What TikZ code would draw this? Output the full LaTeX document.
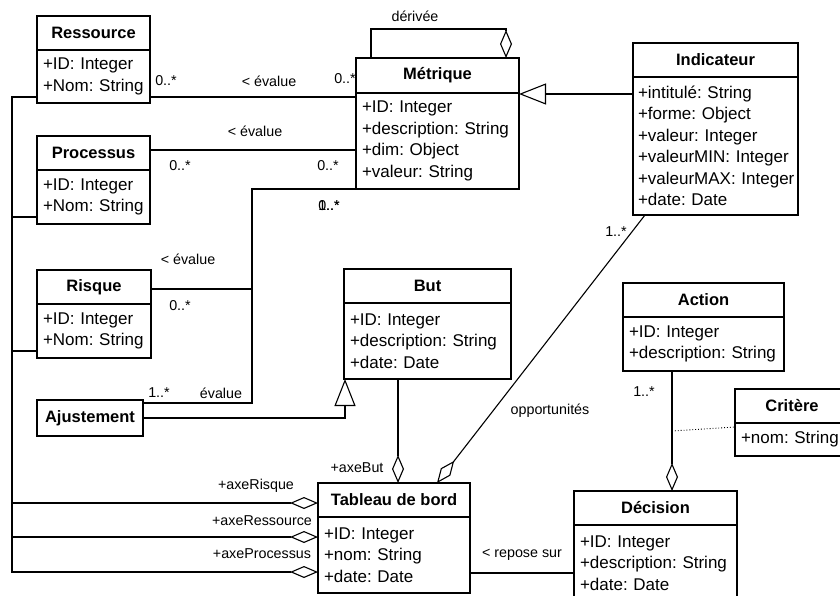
\documentclass[tikz,border=0pt]{standalone}
\usepackage{fontspec}
\setmainfont{Liberation Sans}
\usetikzlibrary{arrows.meta, positioning, calc}

\newcommand{\attrfont}{\fontsize{17}{21.5}\selectfont\frenchspacing\hyphenpenalty=10000\exhyphenpenalty=10000\hfuzz=20pt}
\newcommand{\headfont}{\fontsize{16.5}{20}\selectfont\bfseries}
\newcommand{\lblfont}{\fontsize{14.3}{17}\selectfont}

\tikzset{
  head/.style={draw, font=\headfont, minimum height=34pt, inner sep=0pt, outer sep=0pt, anchor=north west},
  body/.style={draw, font=\attrfont, align=left, inner xsep=6pt, inner ysep=0pt, outer sep=0pt},
  lbl/.style={font=\lblfont, inner sep=0pt},
  aggr/.style={-{Diamond[open, length=28pt, width=12pt]}},
  gen/.style={-{Triangle[open, length=27pt, width=21pt]}},
  assoc/.style={dotted, line width=0.9pt}
}

\begin{document}
\begin{tikzpicture}[x=1pt, y=-1pt, line width=1.1pt]
\useasboundingbox (0,0) rectangle (840,596);
\clip (0,0) rectangle (840,596);

%classes
  \node[head, minimum width=113pt] (res) at (37,16) {Ressource};
  \node[body, text width=101pt, minimum height=53pt, below=0pt of res] (res-b) {+ID:~Integer\\+Nom:~String};
  \node[head, minimum width=113pt] (proc) at (37,136) {Processus};
  \node[body, text width=101pt, minimum height=54pt, below=0pt of proc] (proc-b) {+ID:~Integer\\+Nom:~String};
  \node[head, minimum width=114pt] (risk) at (37,270) {Risque};
  \node[body, text width=102pt, minimum height=54pt, below=0pt of risk] (risk-b) {+ID:~Integer\\+Nom:~String};
  \node[head, minimum width=106pt, minimum height=36pt] (adj) at (37,400) {Ajustement};

  \node[head, minimum width=163pt, minimum height=35pt] (met) at (356,58) {Métrique};
  \node[body, text width=151pt, minimum height=96pt, below=0pt of met] (met-b) {+ID:~Integer\\+description:~String\\+dim:~Object\\+valeur:~String};
  \node[head, minimum width=165pt] (ind) at (633,43) {Indicateur};
  \node[body, text width=155pt, inner xsep=5pt, minimum height=138pt, below=0pt of ind] (ind-b) {+intitulé:~String\\+forme:~Object\\+valeur:~Integer\\+valeurMIN:~Integer\\+valeurMAX:~Integer\\+date:~Date};
  \node[head, minimum width=167pt] (but) at (344,269) {But};
  \node[body, text width=155pt, minimum height=76pt, below=0pt of but] (but-b) {+ID:~Integer\\+description:~String\\+date:~Date};
  \node[head, minimum width=161pt] (act) at (623,283) {Action};
  \node[body, text width=149pt, minimum height=54pt, below=0pt of act] (act-b) {+ID:~Integer\\+description:~String};
  \node[head, minimum width=114pt] (crit) at (735,389) {Critère};
  \node[body, text width=102pt, minimum height=33pt, below=0pt of crit] (crit-b) {+nom:~String};
  \node[head, minimum width=152pt] (tab) at (318,483) {Tableau de bord};
  \node[body, text width=140pt, minimum height=76pt, below=0pt of tab] (tab-b) {+ID:~Integer\\+nom:~String\\+date:~Date};
  \node[head, minimum width=163pt] (dec) at (574,491) {Décision};
  \node[body, text width=151pt, minimum height=76pt, below=0pt of dec] (dec-b) {+ID:~Integer\\+description:~String\\+date:~Date};

%helper points
  \coordinate (bus) at (12,0);
  \coordinate (evbus) at ($(met-b.south west)+(-104,0)$);

%associations
  \draw ([yshift=6pt]res-b.south east) -- ([yshift=6pt]res-b.south east -| met-b.west);
  \draw ([yshift=3pt]proc.east) -- ([yshift=3pt]proc.east -| met-b.west);
  \draw (met-b.south west) -- (evbus) |- ([yshift=15pt]adj.east);
  \draw ([yshift=-2pt]risk.east) -- ([yshift=-2pt]risk.east -| evbus);
  \draw[aggr] ([xshift=15pt]met.north west) -- ++(0,-29) -| ([xshift=-13pt]met.north east);
  \draw[gen] ([yshift=-1pt]met-b.north east -| ind-b.west) -- ([yshift=-1pt]met-b.north east);
  \draw[gen] (adj.east) -| ([xshift=1pt]but-b.south west);
  \draw[aggr] ([xshift=12pt]ind-b.south west) -- ([xshift=119pt]tab.north west);
  \draw[aggr] ([xshift=54pt]but-b.south west) -- ([xshift=54pt]but-b.south west |- tab.north);
  \draw[aggr] ([yshift=6pt]res-b.south west) -- ([yshift=6pt]res-b.south west -| bus) |- ([yshift=18pt]tab-b.west);
  \draw[aggr] ([yshift=7pt]proc-b.south west) -- ([yshift=7pt]proc-b.south west -| bus) |- ([yshift=-17pt]tab-b.west);
  \draw[aggr] ([yshift=7pt]risk-b.south west) -- ([yshift=7pt]risk-b.south west -| bus) |- ([yshift=-3pt]tab.west);
  \draw[aggr] ([xshift=49pt]act-b.south west) -- ([xshift=49pt]act-b.south west |- dec.north);
  \draw[assoc] ([xshift=49pt,yshift=-60pt]act-b.south west) -- ([yshift=-4pt]crit.south west);
  \draw ([yshift=-18pt]tab-b.east) -- ([yshift=-18pt]tab-b.east -| dec-b.west);

%labels
  \node[lbl] (m-res1) at (166,81) {0..*};
  \node[lbl] (e-res) at (269,81) {< évalue};
  \node[lbl] (m-res2) at (345,79) {0..*};
  \node[lbl] (e-proc) at (255,131) {< évalue};
  \node[lbl] (m-proc1) at (180,166) {0..*};
  \node[lbl] (m-proc2) at (328,166) {0..*};
  \node[lbl] (m-risk2) at (329,206) {0..*};
  \node[lbl] (m-adj2) at (329,206) {1..*};
  \node[lbl] (e-risk) at (188,259) {< évalue};
  \node[lbl] (m-risk1) at (180,306) {0..*};
  \node[lbl] (m-adj1) at (159,393) {1..*};
  \node[lbl] (e-adj) at (221,393) {évalue};
  \node[lbl] (derivee) at (415,16) {dérivée};
  \node[lbl] (m-ind) at (616,232) {1..*};
  \node[lbl] (opport) at (550,411) {opportunités};
  \node[lbl] (m-act) at (644,392) {1..*};
  \node[lbl] (axebut) at (357,468) {+axeBut};
  \node[lbl] (axerisk) at (256,486) {+axeRisque};
  \node[lbl] (axeres) at (262,521) {+axeRessource};
  \node[lbl] (axeproc) at (262,554) {+axeProcessus};
  \node[lbl] (repose) at (522,555) {< repose sur};
\end{tikzpicture}
\end{document}
